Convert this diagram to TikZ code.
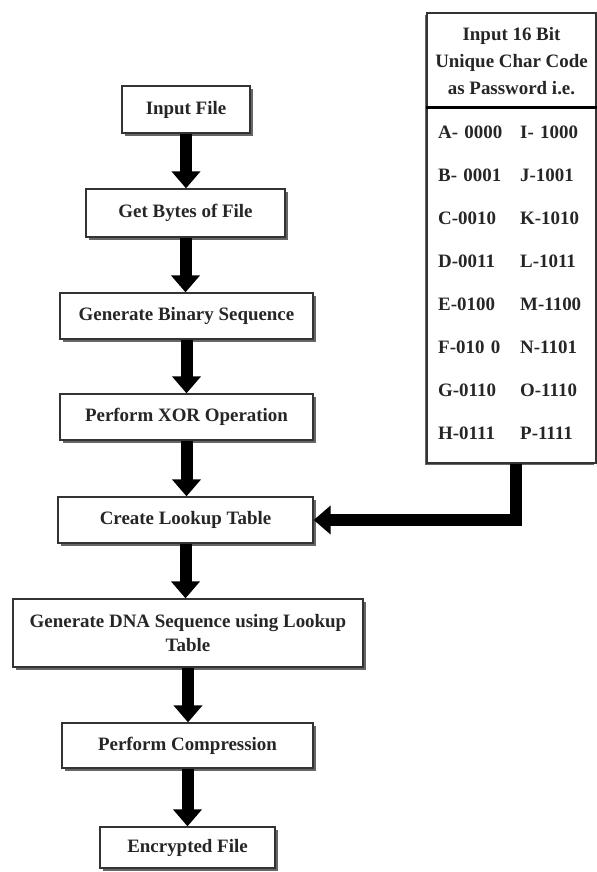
\documentclass[tikz,border=0pt]{standalone}
\usepackage{fontspec}
\setmainfont{Liberation Serif}
\usetikzlibrary{arrows.meta,matrix,shadows}

\begin{document}
\begin{tikzpicture}[x=1bp,y=-1bp,
        every node/.style={font=\bfseries\fontsize{19}{24}\selectfont, text=black!85},
        boxline/.style={draw=black!80, line width=1.3bp, fill=white, inner sep=0pt, align=center},
        stepbox/.style={boxline, drop shadow={shadow xshift=3bp, shadow yshift=-3bp, fill=black!60, opacity=1}},
        pwdbox/.style={boxline, drop shadow={shadow xshift=-2bp, shadow yshift=-2bp, fill=black!60, opacity=1}},
        flow/.style={line width=12bp, -{Triangle[width=28bp,length=17bp]}}]
        \fill[white] (0,0) rectangle (597,872);
        \useasboundingbox (0,0) rectangle (597,872);

        % flow chart
        \node[stepbox, minimum width=128bp, minimum height=47bp] (inp) at (186,109.5) {Input File};
        \node[stepbox, minimum width=199bp, minimum height=48bp] (bytes) at (185.5,213) {Get Bytes of File};
        \node[stepbox, minimum width=253bp, minimum height=46bp] (bin) at (186.5,316) {Generate Binary Sequence};
        \node[stepbox, minimum width=253bp, minimum height=46bp] (xor) at (186.5,417) {Perform XOR Operation};
        \node[stepbox, minimum width=255bp, minimum height=46bp] (look) at (185.5,520) {Create Lookup Table};
        \node[stepbox, minimum width=350bp, minimum height=68bp] (dna) at (188,633) {Generate DNA Sequence using Lookup\\Table};
        \node[stepbox, minimum width=251bp, minimum height=45bp] (comp) at (187.5,745.5) {Perform Compression};
        \node[stepbox, minimum width=175bp, minimum height=41bp] (enc) at (187.5,847.5) {Encrypted File};

        \foreach \a/\b in {inp/bytes, bytes/bin, bin/xor, xor/look, look/dna, dna/comp, comp/enc}
          \draw[flow] (\a.south) -- (\a.south |- \b.north);

        % password table
        \node[pwdbox, minimum width=169bp, minimum height=450bp] (pwd) at (511.5,238) {};
        \node[align=center, font=\bfseries\fontsize{19}{27}\selectfont] (head) at (511.5,61)
          {Input 16 Bit\\Unique Char Code\\as Password i.e.};
        \draw[line width=3bp] (pwd.west |- 0,107) -- (pwd.east |- 0,107);
        \matrix (codes) [matrix of nodes, anchor=north west, inner sep=0pt,
                         nodes={text width=82bp, text height=13bp, text depth=0pt, inner sep=0pt, align=left},
                         row sep=30bp] at (438,125.5)
        {
          A- 0000 & I- 1000 \\
          B- 0001 & J-1001 \\
          C-0010 & K-1010 \\
          D-0011 & L-1011 \\
          E-0100 & M-1100 \\
          F-010 0 & N-1101 \\
          G-0110 & O-1110 \\
          H-0111 & P-1111 \\
        };

        \draw[flow] ([xshift=4.5bp]pwd.south) |- (look.east);
\end{tikzpicture}
\end{document}
